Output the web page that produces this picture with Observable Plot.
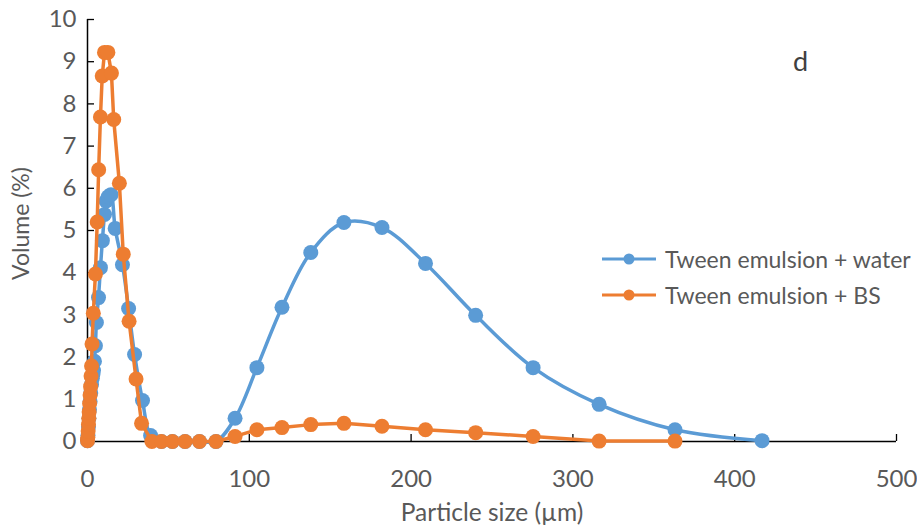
<!DOCTYPE html>
<html>
<head>
<meta charset="utf-8">
<script src="https://cdn.jsdelivr.net/npm/d3@7"></script>
<script src="https://cdn.jsdelivr.net/npm/@observablehq/plot@0.6"></script>
<style>
  html, body { margin: 0; padding: 0; background: #fff; }
  #chart { position: relative; width: 917px; height: 530px; font-family: Lato, sans-serif; }
  .legend { position: absolute; left: 601px; top: 241px; color: #595959; font-size: 23px; }
  .legend .row { display: flex; align-items: center; height: 36px; }
  .legend svg { margin-right: 8px; }
</style>
</head>
<body>
<div id="chart"></div>
<script>
// Particle size distribution (volume %), two emulsions
const xTicks = [0, 100, 200, 300, 400, 500];
const yTicks = [0, 1, 2, 3, 4, 5, 6, 7, 8, 9, 10];

const seriesNames = ["Tween emulsion + water", "Tween emulsion + BS"];
const seriesColors = ["#5B9BD5", "#ED7D31"];

// Tween emulsion + water
const sizeWater = [0, 0.3, 0.6, 0.9, 1.2, 1.6, 2.0, 2.5, 3.0, 3.4, 3.7, 4.3, 4.9, 5.5, 6.8, 8.0, 9.2,
  10.5, 11.5, 12.8, 14.5, 17.1, 21.6, 25.4, 29.1, 34.0, 39.0, 45.7, 52.5, 60.3, 69.2, 79.4,
  91.2, 104.7, 120.2, 138.0, 158.5, 182.0, 208.9, 239.9, 275.4, 316.2, 363.1, 416.9];
const volWater = [0.02, 0.15, 0.35, 0.55, 0.75, 0.95, 1.15, 1.35, 1.5, 1.6, 1.68, 1.9, 2.27, 2.82, 3.41, 4.12, 4.76,
  5.38, 5.7, 5.8, 5.85, 5.05, 4.19, 3.15, 2.06, 0.97, 0.14, 0, 0, 0, 0, 0,
  0.55, 1.75, 3.18, 4.48, 5.19, 5.07, 4.22, 2.99, 1.75, 0.88, 0.28, 0.02];

// Tween emulsion + BS
const sizeBS = [0, 0.2, 0.4, 0.6, 0.8, 1.0, 1.3, 1.6, 1.9, 2.2, 2.5, 2.8, 3.6, 4.9, 6.0, 6.9, 8.0, 9.1,
  10.5, 12.6, 14.8, 16.2, 19.7, 22.1, 25.7, 30.0, 33.4, 39.8, 45.7, 52.5, 60.3, 69.2, 79.4,
  91.2, 104.7, 120.2, 138.0, 158.5, 182.0, 208.9, 239.9, 275.4, 316.2, 363.1];
const volBS = [0.02, 0.1, 0.25, 0.4, 0.55, 0.7, 0.9, 1.1, 1.3, 1.55, 1.79, 2.31, 3.04, 3.97, 5.2, 6.44, 7.69, 8.66,
  9.22, 9.22, 8.73, 7.63, 6.12, 4.44, 2.85, 1.48, 0.43, 0, 0, 0, 0, 0, 0,
  0.12, 0.28, 0.33, 0.40, 0.43, 0.36, 0.28, 0.21, 0.12, 0.01, 0.01];

const panelLabel = "d";
const xLabel = "Particle size (µm)";
const yLabel = "Volume (%)";

const water = sizeWater.map((s, i) => ({size: s, volume: volWater[i]}));
const bs = sizeBS.map((s, i) => ({size: s, volume: volBS[i]}));

const W = 917, H = 530;
const mL = 87, mR = 21, mT = 19, mB = 89;
const frameW = W - mL - mR, frameH = H - mT - mB;

const plot = Plot.plot({
  width: W,
  height: H,
  marginLeft: mL,
  marginRight: mR,
  marginTop: mT,
  marginBottom: mB,
  style: {fontFamily: "Lato, sans-serif", fontSize: "24px", color: "#595959", background: "#fff"},
  x: {domain: [0, 500]},
  y: {domain: [0, 10]},
  marks: [
    Plot.axisX({ticks: xTicks, tickSize: 0, tickPadding: 28, label: null, fill: "#595959"}),
    Plot.axisY({ticks: yTicks, tickSize: 0, tickPadding: 11, label: null, fill: "#595959"}),
    // inward tick marks
    Plot.tickX(xTicks.slice(1), {x: d => d, stroke: "#000", strokeWidth: 1.3, insetTop: frameH - 7}),
    Plot.tickY(yTicks.slice(1), {y: d => d, stroke: "#000", strokeWidth: 1.3, insetRight: frameW - 7}),
    Plot.ruleY([0], {stroke: "#000", strokeWidth: 1.5}),
    Plot.ruleX([0], {stroke: "#000", strokeWidth: 1.5}),
    // series
    Plot.line(water, {x: "size", y: "volume", stroke: seriesColors[0], strokeWidth: 3.5, curve: "catmull-rom"}),
    Plot.dot(water, {x: "size", y: "volume", r: 7.5, fill: seriesColors[0], stroke: "none"}),
    Plot.line(bs, {x: "size", y: "volume", stroke: seriesColors[1], strokeWidth: 3.5}),
    Plot.dot(bs, {x: "size", y: "volume", r: 7.5, fill: seriesColors[1], stroke: "none"}),
    // titles
    Plot.text([xLabel], {frameAnchor: "bottom", lineAnchor: "middle", textAnchor: "middle", dy: 72, text: d => d, fill: "#595959", fontSize: 24.5}),
    Plot.text([yLabel], {frameAnchor: "left", lineAnchor: "middle", textAnchor: "middle", dx: -66, dy: -7, rotate: -90, text: d => d, fill: "#595959", fontSize: 23}),
    Plot.text([panelLabel], {frameAnchor: "top-right", lineAnchor: "middle", textAnchor: "middle", dx: -96, dy: 43, text: d => d, fill: "#404040", fontSize: 27})
  ]
});

const chart = document.getElementById("chart");
chart.appendChild(plot);

// legend
const legend = document.createElement("div");
legend.className = "legend";
seriesNames.forEach((name, i) => {
  const row = document.createElement("div");
  row.className = "row";
  const sw = d3.create("svg").attr("width", 56).attr("height", 16);
  sw.append("line").attr("x1", 1).attr("x2", 55).attr("y1", 8).attr("y2", 8)
    .attr("stroke", seriesColors[i]).attr("stroke-width", 3);
  sw.append("circle").attr("cx", 28).attr("cy", 8).attr("r", 5.5).attr("fill", seriesColors[i]);
  row.appendChild(sw.node());
  const label = document.createElement("span");
  label.textContent = name;
  row.appendChild(label);
  legend.appendChild(row);
});
chart.appendChild(legend);
</script>
</body>
</html>
